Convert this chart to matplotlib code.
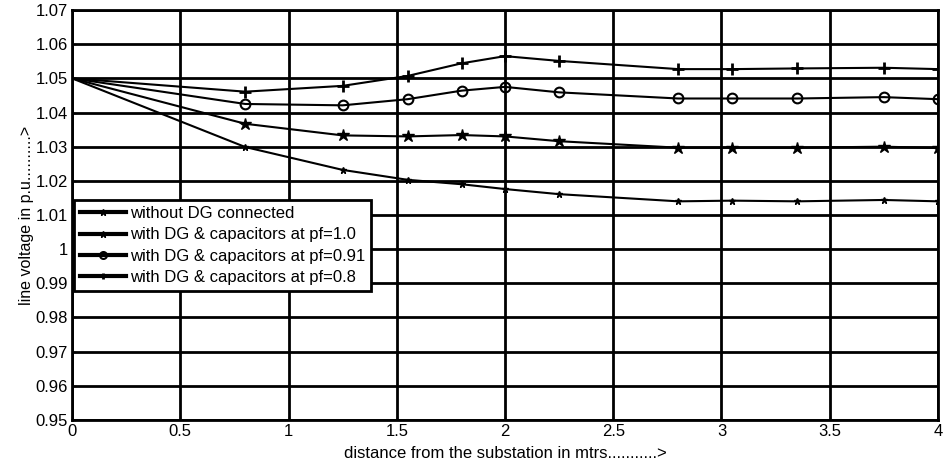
import matplotlib
matplotlib.use('Agg')
import matplotlib.pyplot as plt

plt.rcParams['font.family'] = ['Liberation Sans', 'DejaVu Sans']

distance = [0, 0.8, 1.25, 1.55, 1.8, 2.0, 2.25, 2.8, 3.05, 3.35, 3.75, 4.0]

v_no_dg  = [1.05, 1.0299, 1.0232, 1.0203, 1.0190, 1.0176, 1.0161, 1.0140, 1.0142, 1.0140, 1.0144, 1.0140]
v_pf_10  = [1.05, 1.0367, 1.0333, 1.0330, 1.0334, 1.0330, 1.0316, 1.0297, 1.0297, 1.0297, 1.0300, 1.0296]
v_pf_091 = [1.05, 1.0425, 1.0421, 1.0439, 1.0464, 1.0475, 1.0459, 1.0441, 1.0441, 1.0441, 1.0445, 1.0439]
v_pf_08  = [1.05, 1.0461, 1.0478, 1.0507, 1.0544, 1.0565, 1.0551, 1.0527, 1.0527, 1.0529, 1.0531, 1.0527]

labels = ['without DG connected',
          'with DG & capacitors at pf=1.0',
          'with DG & capacitors at pf=0.91',
          'with DG & capacitors at pf=0.8']

xticks = [0, 0.5, 1, 1.5, 2, 2.5, 3, 3.5, 4]
yticks = [0.95, 0.96, 0.97, 0.98, 0.99, 1.0, 1.01, 1.02, 1.03, 1.04, 1.05, 1.06, 1.07]


def main():
    fig = plt.figure(figsize=(9.44, 4.68), dpi=100)
    ax = fig.add_axes([0.0763, 0.1026, 0.9173, 0.876])

    # no marker on the common starting point at the substation
    mk = slice(1, None)
    ax.plot(distance, v_no_dg, color='k', lw=1.5, marker='*', ms=5, markevery=mk, label=labels[0])
    ax.plot(distance, v_pf_10, color='k', lw=1.5, marker='*', ms=9, markevery=mk, label=labels[1])
    ax.plot(distance, v_pf_091, color='k', lw=1.5, marker='o', ms=7, mfc='none', mew=1.5,
            markevery=mk, label=labels[2])
    ax.plot(distance, v_pf_08, color='k', lw=1.5, marker='+', ms=9, mew=2, markevery=mk, label=labels[3])

    ax.set_xlim(0, 4)
    ax.set_ylim(0.95, 1.07)
    ax.set_xticks(xticks)
    ax.set_yticks(yticks)
    ax.set_xticklabels(['%g' % t for t in xticks])
    ax.set_yticklabels(['%g' % t for t in yticks])
    ax.tick_params(direction='in', length=3, width=1, labelsize=12, pad=3)
    ax.grid(True, color='k', lw=2, ls='-')
    for sp in ax.spines.values():
        sp.set_linewidth(2)

    ax.set_xlabel('distance from the substation in mtrs...........>', fontsize=12, labelpad=5)
    ax.set_ylabel('line voltage in p.u..........>', fontsize=11.5, labelpad=1)

    leg = ax.legend(loc='upper left', bbox_to_anchor=(0.0, 0.54), fontsize=12,
                    fancybox=False, framealpha=1, edgecolor='k', borderpad=0.35,
                    handlelength=2.8, handletextpad=0.25, labelspacing=0.38,
                    borderaxespad=0.1)
    leg.get_frame().set_linewidth(2)
    for line in leg.get_lines():
        line.set_linewidth(3)
        line.set_markersize(5)

    fig.savefig('out.png', dpi=100)


if __name__ == '__main__':
    main()
